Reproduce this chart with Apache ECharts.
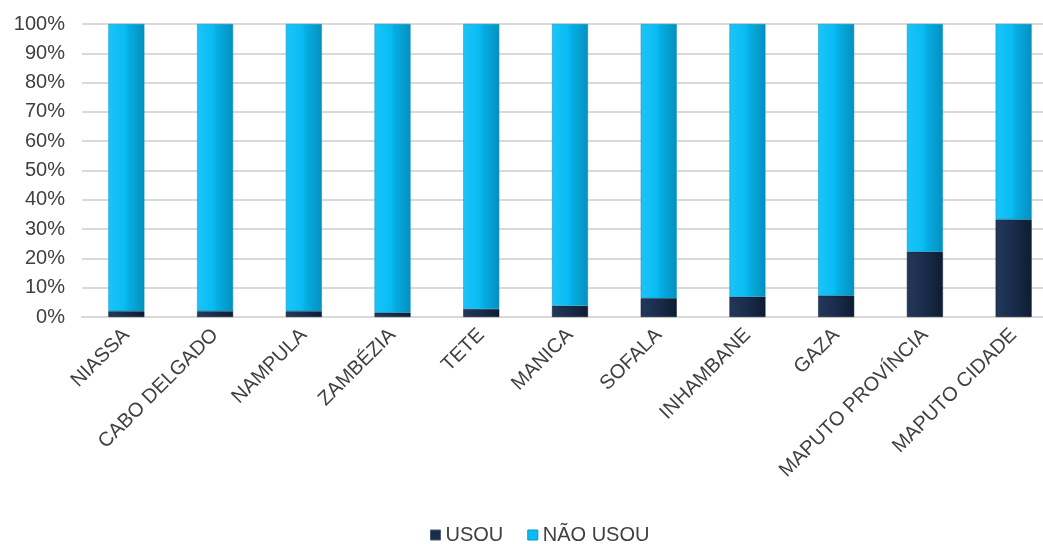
<!DOCTYPE html>
<html><head><meta charset="utf-8">
<script src="https://cdn.jsdelivr.net/npm/echarts@6/dist/echarts.min.js"></script>
<style>html,body{margin:0;padding:0;background:#fff;overflow:hidden;width:1043px;height:544px}#c{width:1062px;height:544px}</style>
</head><body><div id="c"></div>
<script>
const categories = ['NIASSA','CABO DELGADO','NAMPULA','ZAMBÉZIA','TETE','MANICA','SOFALA','INHAMBANE','GAZA','MAPUTO PROVÍNCIA','MAPUTO CIDADE'];
const usou = [2.0, 2.0, 2.0, 1.5, 2.7, 3.8, 6.4, 6.9, 7.3, 22.3, 33.3];
const naoUsou = usou.map(v => +(100 - v).toFixed(1));
const seriesNames = ['USOU', 'NÃO USOU'];

const chart = echarts.init(document.getElementById('c'));
const darkGrad = new echarts.graphic.LinearGradient(0,0,1,0,[{offset:0,color:'#22385C'},{offset:0.5,color:'#1A2C4A'},{offset:1,color:'#0E1C33'}]);
const lightGrad = new echarts.graphic.LinearGradient(0,0,1,0,[{offset:0,color:'#1CC4F8'},{offset:0.45,color:'#08BCF4'},{offset:0.55,color:'#06AEE3'},{offset:1,color:'#0490C0'}]);
chart.setOption({
  animation:false,
  textStyle:{fontFamily:'Liberation Sans, Arial, sans-serif'},
  grid:{left:82, top:24, width:976, height:293, containLabel:false},
  legend:{
    top:525, left:430, padding:0, itemWidth:10, itemHeight:10, itemGap:24,
    textStyle:{fontSize:20, lineHeight:20, color:'#404040', padding:[0,0,0,0]},
    data:[{name:seriesNames[0], icon:'rect', itemStyle:{color:'#1A2C4A', borderColor:'#4A5A78', borderWidth:1}},
          {name:seriesNames[1], icon:'rect', itemStyle:{color:'#08BCF4', borderColor:'#1090C0', borderWidth:1}}]
  },
  xAxis:{
    type:'category', data:categories,
    axisLine:{lineStyle:{color:'#D9D9D9', width:2}},
    axisTick:{show:false},
    axisLabel:{rotate:45, fontSize:20, color:'#404040', margin:15, interval:0}
  },
  yAxis:{
    type:'value', min:0, max:100, interval:10,
    axisLine:{show:false}, axisTick:{show:false},
    axisLabel:{formatter:'{value}%', fontSize:20, color:'#404040', margin:17},
    splitLine:{lineStyle:{color:'#D9D9D9', width:2}}
  },
  series:[
    {name:seriesNames[0], type:'bar', stack:'t', barWidth:36, data:usou,
     itemStyle:{color:darkGrad, borderColor:'#0B1628', borderWidth:0.5}},
    {name:seriesNames[1], type:'bar', stack:'t', barWidth:36, data:naoUsou,
     itemStyle:{color:lightGrad, borderColor:'#0A8FBE', borderWidth:0.5}}
  ]
});
</script></body></html>
